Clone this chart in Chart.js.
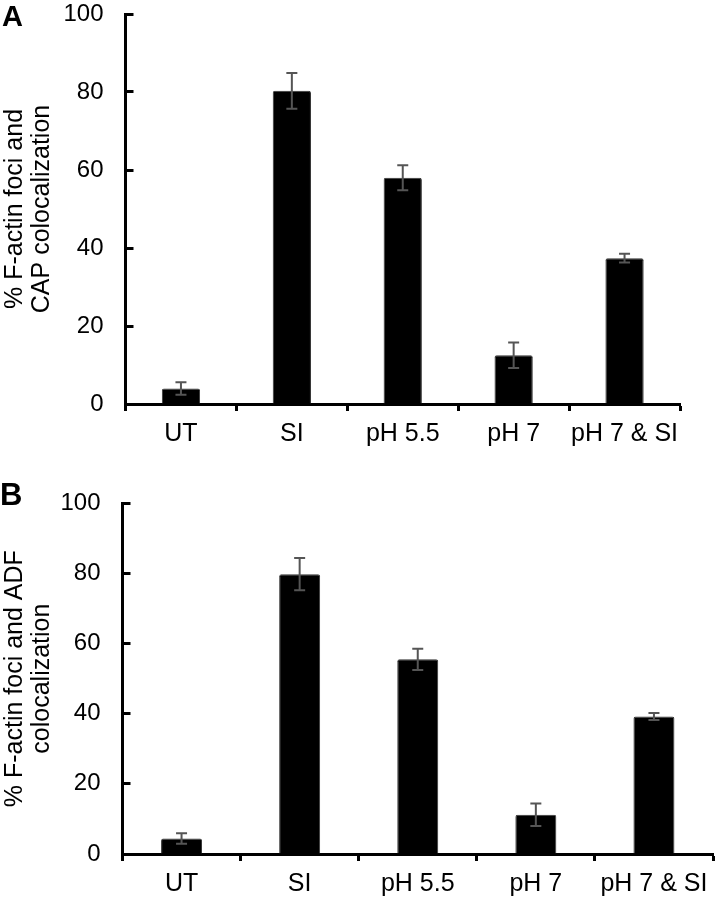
<!DOCTYPE html>
<html>
<head>
<meta charset="utf-8">
<script src="https://cdn.jsdelivr.net/npm/chart.js@4.4.1/dist/chart.umd.min.js"></script>
<style>
  html, body { margin: 0; padding: 0; background: #fff; }
  body { width: 717px; height: 899px; position: relative; overflow: hidden; font-family: "Liberation Sans", Arial, sans-serif; }
  .wrap { position: absolute; left: 0; width: 717px; }
  #wa { top: 0; height: 450px; }
  #wb { top: 450px; height: 449px; }
  .panel { position: absolute; font-weight: bold; line-height: 1; color: #000; }
</style>
</head>
<body>
<div class="wrap" id="wa"><canvas id="ca" width="717" height="450"></canvas></div>
<div class="wrap" id="wb"><canvas id="cb" width="717" height="449"></canvas></div>
<div class="panel" style="left:2px; top:1.5px; font-size:29px;">A</div>
<div class="panel" style="left:0px; top:479px; font-size:31px;">B</div>
<script>
// ---- data ----
const categories = ["UT", "SI", "pH 5.5", "pH 7", "pH 7 & SI"];
const capValues = [4.0, 80.3, 58.0, 12.5, 37.4];
const capErrors = [1.6, 4.6, 3.2, 3.3, 1.1];
const adfValues = [4.4, 79.8, 55.5, 11.2, 39.2];
const adfErrors = [1.5, 4.6, 3.0, 3.2, 1.0];
const yTicks = [0, 20, 40, 60, 80, 100];
const titleA = ["% F-actin foci and", "CAP colocalization"];
const titleB = ["% F-actin foci and ADF", "colocalization"];

const FONT = "'Liberation Sans', Arial, sans-serif";

const errorBarPlugin = {
  id: 'errorBars',
  afterDatasetsDraw(chart, args, opts) {
    const ctx = chart.ctx;
    const meta = chart.getDatasetMeta(0);
    const ys = chart.scales.y;
    const vals = chart.data.datasets[0].data;
    const errs = opts.errors;
    ctx.save();
    ctx.strokeStyle = '#555';
    ctx.lineWidth = 2;
    meta.data.forEach((bar, i) => {
      const x = bar.x;
      const yt = ys.getPixelForValue(vals[i] + errs[i]);
      const yb = ys.getPixelForValue(vals[i] - errs[i]);
      const cap = 5.5;
      ctx.beginPath();
      ctx.moveTo(x, yt); ctx.lineTo(x, yb);
      ctx.moveTo(x - cap, yt); ctx.lineTo(x + cap, yt);
      ctx.moveTo(x - cap, yb); ctx.lineTo(x + cap, yb);
      ctx.stroke();
    });
    ctx.restore();
  }
};

function makeChart(id, values, errors, title, geo) {
  return new Chart(document.getElementById(id), {
    type: 'bar',
    data: {
      labels: categories,
      datasets: [{
        data: values,
        backgroundColor: '#000',
        borderColor: '#333',
        borderWidth: 1,
        borderRadius: 2,
        borderSkipped: 'bottom',
        barPercentage: geo.barPct,
        categoryPercentage: 1.0
      }]
    },
    options: {
      responsive: false,
      animation: false,
      devicePixelRatio: 1,
      layout: { padding: { left: 0, top: geo.top, right: geo.right, bottom: 0 } },
      plugins: {
        legend: { display: false },
        tooltip: { enabled: false },
        errorBars: { errors: errors }
      },
      scales: {
        x: {
          offset: true,
          grid: { display: true, drawOnChartArea: false, offset: true, tickLength: 7, tickWidth: 3, tickColor: '#000' },
          border: { display: true, color: '#000', width: 3 },
          ticks: { color: '#000', font: { family: FONT, size: 25 }, padding: 8, maxRotation: 0, autoSkip: false },
          afterFit(s) { s.height = geo.xh; s.paddingLeft = 0; s.paddingRight = 0; }
        },
        y: {
          min: 0, max: 100,
          afterBuildTicks(s) { s.ticks = yTicks.map(v => ({ value: v })); },
          grid: { display: true, drawOnChartArea: false, tickLength: -8, tickWidth: 3, tickColor: '#000' },
          border: { display: true, color: '#000', width: 3 },
          ticks: { color: '#000', font: { family: FONT, size: 24, lineHeight: 1 }, padding: 30 },
          title: {
            display: true,
            text: title,
            color: '#000',
            font: { family: FONT, size: 25, lineHeight: 1.1 },
            padding: { top: 1, bottom: 0 }
          },
          afterFit(s) { s.width = geo.left; s.paddingTop = 0; s.paddingBottom = 0; }
        }
      }
    },
    plugins: [errorBarPlugin]
  });
}

makeChart('ca', capValues, capErrors, titleA, { left: 125.5, top: 14, right: 37, xh: 46, barPct: 0.345 });
makeChart('cb', adfValues, adfErrors, titleB, { left: 122.5, top: 53.3, right: 4, xh: 45, barPct: 0.347 });
</script>
</body>
</html>
